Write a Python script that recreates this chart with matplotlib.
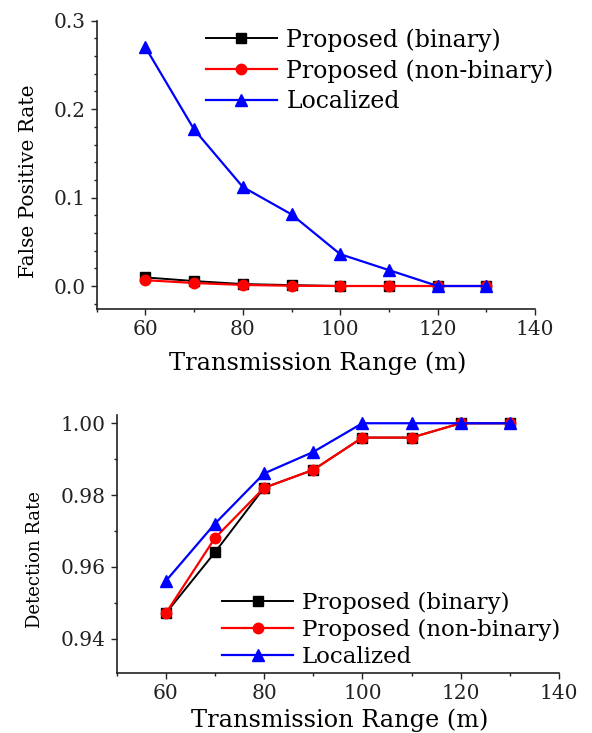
import matplotlib
matplotlib.use("Agg")
import matplotlib.pyplot as plt
from matplotlib.ticker import MultipleLocator, FormatStrFormatter

# transmission range (m)
ranges = [60, 70, 80, 90, 100, 110, 120, 130]

# false positive rate
fpr_binary = [0.0097, 0.0056, 0.0022, 0.0010, 0.0, 0.0, 0.0, 0.0]
fpr_nonbinary = [0.0066, 0.0034, 0.0012, 0.0003, 0.0, 0.0, 0.0, 0.0]
fpr_localized = [0.270, 0.177, 0.112, 0.081, 0.036, 0.018, 0.0, 0.0]

# detection rate
dr_binary = [0.947, 0.964, 0.982, 0.987, 0.996, 0.996, 1.0, 1.0]
dr_nonbinary = [0.947, 0.968, 0.982, 0.987, 0.996, 0.996, 1.0, 1.0]
dr_localized = [0.956, 0.972, 0.986, 0.992, 1.0, 1.0, 1.0, 1.0]

labels = ["Proposed (binary)", "Proposed (non-binary)", "Localized"]

plt.rcParams['font.family'] = ['DejaVu Serif']
W, H = 592, 733
fig = plt.figure(figsize=(W / 100, H / 100), dpi=100)


def px_axes(left, top, right, bottom):
    return fig.add_axes([left / W, 1 - bottom / H, (right - left) / W, (bottom - top) / H])


def style(ax):
    for s in ['top', 'right']:
        ax.spines[s].set_visible(False)
    for s in ['left', 'bottom']:
        ax.spines[s].set_linewidth(1.2)
        ax.spines[s].set_color('#222222')
    ax.tick_params(which='major', direction='out', length=4, width=1, colors='#222222',
                   labelsize=14.5, pad=4)
    ax.tick_params(which='minor', direction='out', length=2.2, width=1, colors='#222222')
    ax.xaxis.set_major_locator(MultipleLocator(20))
    ax.xaxis.set_minor_locator(MultipleLocator(10))
    ax.set_xlim(50, 140)


def draw(ax, b, nb, loc):
    ax.plot(ranges, b, color='black', marker='s', markersize=7, linewidth=1.4, label=labels[0])
    ax.plot(ranges, nb, color='red', marker='o', markersize=7.5, linewidth=1.6, label=labels[1])
    ax.plot(ranges, loc, color='blue', marker='^', markersize=8.5, linewidth=1.6, label=labels[2])


# top: false positive rate
ax1 = px_axes(96.7, 20.7, 535, 309)
style(ax1)
draw(ax1, fpr_binary, fpr_nonbinary, fpr_localized)
ax1.set_ylim(-0.026, 0.3)
ax1.yaxis.set_major_locator(MultipleLocator(0.1))
ax1.yaxis.set_minor_locator(MultipleLocator(0.02))
ax1.yaxis.set_major_formatter(FormatStrFormatter('%.1f'))
ax1.set_ylabel("False Positive Rate", fontsize=14.5, va='center')
ax1.yaxis.set_label_coords(-0.1545, 0.444)
ax1.set_xlabel("Transmission Range (m)", fontsize=17.3, va='center')
ax1.xaxis.set_label_coords(0.505, -0.187)
ax1.legend(loc='upper left', bbox_to_anchor=(206 / W, 1 - 28 / H), bbox_transform=fig.transFigure,
           frameon=False, fontsize=17, handlelength=3.0, handletextpad=0.4,
           labelspacing=0.32, borderpad=0, borderaxespad=0)

# bottom: detection rate
ax2 = px_axes(116.6, 415, 559, 673.3)
style(ax2)
draw(ax2, dr_binary, dr_nonbinary, dr_localized)
ax2.set_ylim(0.9303, 1.0023)
ax2.yaxis.set_major_locator(MultipleLocator(0.02))
ax2.yaxis.set_minor_locator(MultipleLocator(0.01))
ax2.yaxis.set_major_formatter(FormatStrFormatter('%.2f'))
ax2.set_ylabel("Detection Rate", fontsize=13, va='center')
ax2.yaxis.set_label_coords(-0.1844, 0.4386)
ax2.set_xlabel("Transmission Range (m)", fontsize=17.3, va='center')
ax2.xaxis.set_label_coords(0.505, -0.181)
ax2.legend(loc='upper left', bbox_to_anchor=(222 / W, 1 - 592 / H), bbox_transform=fig.transFigure,
           frameon=False, fontsize=16.5, handlelength=3.1, handletextpad=0.4,
           labelspacing=0.22, borderpad=0, borderaxespad=0)

fig.savefig("out.png", dpi=100)
